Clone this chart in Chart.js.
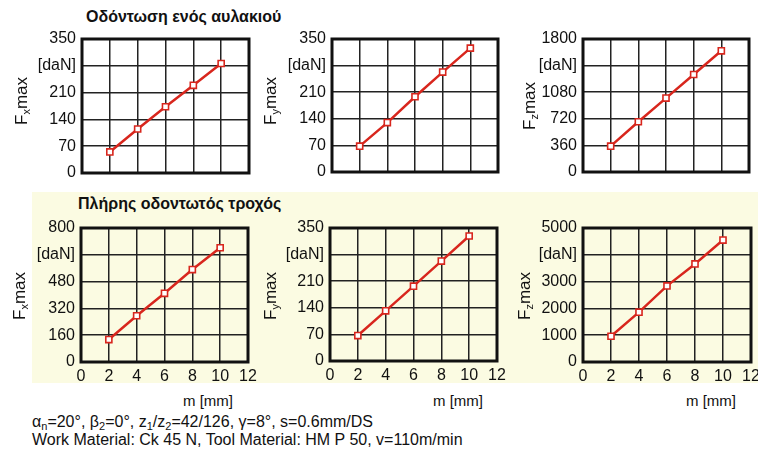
<!DOCTYPE html>
<html>
<head>
<meta charset="utf-8">
<script src="https://cdn.jsdelivr.net/npm/chart.js@4"></script>
<style>
  body { margin: 0; background: #fff; font-family: "Liberation Sans", Arial, sans-serif; color: #111; }
  #page { position: relative; width: 758px; height: 457px; overflow: hidden; }
  #panel { position: absolute; left: 32px; top: 192px; width: 726px; height: 191px; background: #fbfbe2; }
  canvas { position: absolute; }
  .title { position: absolute; font-weight: bold; font-size: 16px; white-space: nowrap; }
  .ytitle { position: absolute; font-size: 17px; white-space: nowrap; transform: translate(-50%, -50%) rotate(-90deg); }
  .ytitle sub { font-size: 11px; vertical-align: -3px; }
  .xtitle { position: absolute; font-size: 15px; white-space: nowrap; transform: translate(-50%, -50%); }
  #note { position: absolute; left: 32px; top: 413px; font-size: 16px; line-height: 18px; white-space: nowrap; }
  #note sub { font-size: 11px; vertical-align: -3px; line-height: 0; }
</style>
</head>
<body>
<div id="page">
  <div id="panel"></div>
  <div class="title" style="left:86px; top:8px;">Οδόντωση ενός αυλακιού</div>
  <div class="title" style="left:78px; top:195px;">Πλήρης οδοντωτός τροχός</div>
  <div id="note">α<sub>n</sub>=20°, β<sub>2</sub>=0°, z<sub>1</sub>/z<sub>2</sub>=42/126, γ=8°, s=0.6mm/DS<br>Work Material: Ck 45 N, Tool Material: HM P 50, v=110m/min</div>
</div>
<script>
// module m [mm]
const mValues = [2, 4, 6, 8, 10];

// single slot (Οδόντωση ενός αυλακιού)
const fxSingle = [55, 115, 173, 229, 286];
const fySingle = [68, 130, 198, 263, 326];
const fzSingle = [350, 680, 1000, 1320, 1640];

// full gear (Πλήρης οδοντωτός τροχός)
const fxFull = [134, 276, 410, 552, 682];
const fyFull = [67, 132, 197, 263, 329];
const fzFull = [960, 1860, 2840, 3660, 4550];

const xMax = 12;
const xStep = 2;
const yMaxTop = [350, 350, 1800];
const yMaxBottom = [800, 350, 5000];
const forceNames = ["x", "y", "z"];
const unitLabel = "[daN]";
const xTitle = "m [mm]";

const RED = "#d8261d";
const YW = 52, PAD_T = 18, PAD_R = 14;
const FONT = { family: "Liberation Sans, Arial, sans-serif", size: 16 };

// plot areas: left, top, right, bottom
const panels = [
  { data: fxSingle, yMax: yMaxTop[0], f: 0, box: [82, 39, 249, 173], xt: false, yt: [22, 101] },
  { data: fySingle, yMax: yMaxTop[1], f: 1, box: [332, 39, 498, 172], xt: false, yt: [271, 101] },
  { data: fzSingle, yMax: yMaxTop[2], f: 2, box: [583, 39, 749, 172], xt: false, yt: [530, 106] },
  { data: fxFull, yMax: yMaxBottom[0], f: 0, box: [81, 228, 248, 362], xt: true, yt: [20, 296] },
  { data: fyFull, yMax: yMaxBottom[1], f: 1, box: [330, 228, 497, 361], xt: true, yt: [271, 296] },
  { data: fzFull, yMax: yMaxBottom[2], f: 2, box: [583, 228, 751, 362], xt: true, yt: [525, 296] }
];

const xTitlePos = [208, 458, 711];

const framePlugin = {
  id: "frame",
  beforeDatasetsDraw(chart) {
    const a = chart.chartArea, ctx = chart.ctx;
    ctx.save();
    ctx.strokeStyle = "#111";
    ctx.lineWidth = 3;
    ctx.strokeRect(a.left, a.top, a.right - a.left, a.bottom - a.top);
    ctx.restore();
  }
};

const page = document.getElementById("page");

panels.forEach((p) => {
  const [L, T, R, B] = p.box;
  const xh = p.xt ? 26 : 0;
  const padB = p.xt ? 0 : 18;
  const w = (R - L) + YW + PAD_R;
  const h = (B - T) + PAD_T + xh + padB;
  const cv = document.createElement("canvas");
  cv.width = w; cv.height = h;
  cv.style.left = (L - YW) + "px";
  cv.style.top = (T - PAD_T) + "px";
  cv.style.width = w + "px";
  cv.style.height = h + "px";
  page.appendChild(cv);

  const yTitle = document.createElement("div");
  yTitle.className = "ytitle";
  yTitle.style.left = p.yt[0] + "px";
  yTitle.style.top = p.yt[1] + "px";
  yTitle.innerHTML = "F<sub>" + forceNames[p.f] + "</sub>max";
  page.appendChild(yTitle);

  const step = p.yMax / 5;

  new Chart(cv, {
    type: "line",
    data: {
      datasets: [{
        data: mValues.map((m, i) => ({ x: m, y: p.data[i] })),
        borderColor: RED,
        borderWidth: 2.5,
        pointStyle: "rect",
        pointRadius: 4.3,
        pointBorderWidth: 1.6,
        pointBackgroundColor: "#fff",
        pointBorderColor: RED,
        tension: 0
      }]
    },
    options: {
      responsive: false,
      animation: false,
      events: [],
      layout: { padding: { top: PAD_T, right: PAD_R, bottom: padB, left: 0 } },
      plugins: { legend: { display: false }, tooltip: { enabled: false } },
      scales: {
        x: {
          type: "linear", min: 0, max: xMax,
          border: { display: false },
          grid: { color: "#222", lineWidth: 1.5, drawTicks: false },
          ticks: { display: p.xt, stepSize: xStep, padding: 5, color: "#111", font: FONT },
          afterFit: (s) => { s.height = xh; }
        },
        y: {
          min: 0, max: p.yMax,
          border: { display: false },
          grid: { color: "#222", lineWidth: 1.5, drawTicks: false },
          ticks: {
            stepSize: step, padding: 6, color: "#111", font: FONT,
            callback: (v) => (Math.abs(v - step * 4) < 1e-6 ? unitLabel : v)
          },
          afterFit: (s) => { s.width = YW; }
        }
      }
    },
    plugins: [framePlugin]
  });
});

xTitlePos.forEach((x) => {
  const d = document.createElement("div");
  d.className = "xtitle";
  d.style.left = x + "px";
  d.style.top = "400px";
  d.textContent = xTitle;
  page.appendChild(d);
});
</script>
</body>
</html>
